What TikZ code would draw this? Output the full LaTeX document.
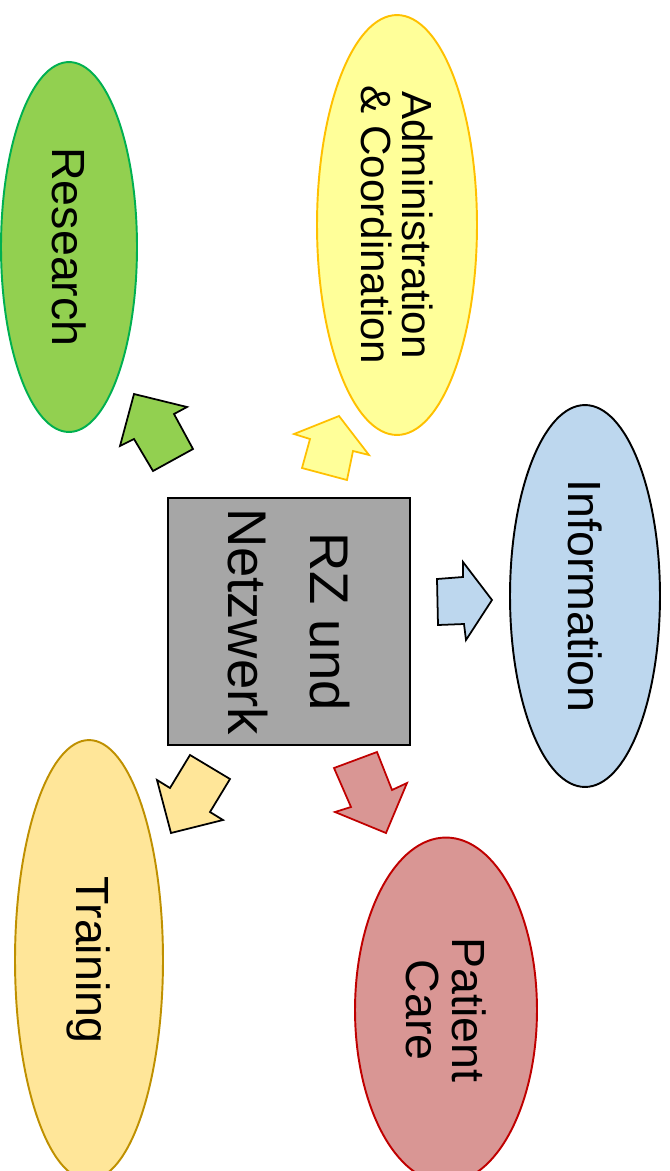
\documentclass[tikz,border=0pt]{standalone}
\usepackage{fontspec}
\setmainfont{Liberation Sans}
\usetikzlibrary{shapes.geometric}
\usepackage{xcolor}

\definecolor{resfill}{HTML}{92D050}
\definecolor{resline}{HTML}{00B050}
\definecolor{admfill}{HTML}{FFFF99}
\definecolor{admline}{HTML}{FFC000}
\definecolor{inffill}{HTML}{BDD7EE}
\definecolor{patfill}{HTML}{D99694}
\definecolor{patline}{HTML}{C00000}
\definecolor{trafill}{HTML}{FFE699}
\definecolor{traline}{HTML}{BF9000}
\definecolor{boxgray}{HTML}{A6A6A6}

\begin{document}
\begin{tikzpicture}[x=0.02cm, y=-0.02cm,
  field/.style={ellipse, draw, line width=1.1pt, rotate=-90, align=center, inner sep=0pt,
    font=\fontsize{26.5}{26}\selectfont},
  blockarrow/.style={draw, line width=1pt, line join=miter}]

\useasboundingbox (0,0) rectangle (670,1171);

%centre box
\node[draw, line width=1.1pt, fill=boxgray, rotate=-90, align=center,
  minimum width=4.94cm, minimum height=4.84cm,
  font=\fontsize{31}{47}\selectfont] (rz) at (289,621.5) {RZ und\\Netzwerk};

%fields
\node[field, fill=resfill, draw=resline, minimum width=7.4cm, minimum height=2.72cm]
  (research) at (69,247) {Research};
\node[field, fill=admfill, draw=admline, minimum width=8.4cm, minimum height=3.2cm,
  font=\fontsize{24}{23}\selectfont] (admin) at (397,225) {Administration\\\& Coordination};
\node[field, fill=inffill, draw=black, minimum width=7.64cm, minimum height=3cm]
  (info) at (585,596) {Information};
\node[field, fill=patfill, draw=patline, minimum width=6.9cm, minimum height=3.64cm]
  (patient) at (446,1010) {Patient\\Care};
\node[field, fill=trafill, draw=traline, minimum width=8.8cm, minimum height=2.96cm]
  (training) at (89,960) {Training};

%arrows
\draw[blockarrow, fill=resfill, draw=black] (134,394) -- (187,407) -- (174,414) -- (193,449)
  -- (153,471) -- (134,439) -- (120,446) -- cycle;
\draw[blockarrow, fill=admfill, draw=admline] (339,416) -- (369,455) -- (353,451) -- (347,480)
  -- (302,468) -- (310,439) -- (294,434) -- cycle;
\draw[blockarrow, fill=inffill, draw=black] (492,600) -- (466,640) -- (464,624) -- (438,625)
  -- (437,579) -- (463,577) -- (463,562) -- cycle;
\draw[blockarrow, fill=patfill, draw=patline] (386,833) -- (335,812) -- (351,807) -- (334,768)
  -- (377,752) -- (392,790) -- (407,783) -- cycle;
\draw[blockarrow, fill=trafill, draw=black] (171,833) -- (223,820) -- (210,812) -- (230,779)
  -- (190,755) -- (170,788) -- (157,780) -- cycle;

\end{tikzpicture}
\end{document}
